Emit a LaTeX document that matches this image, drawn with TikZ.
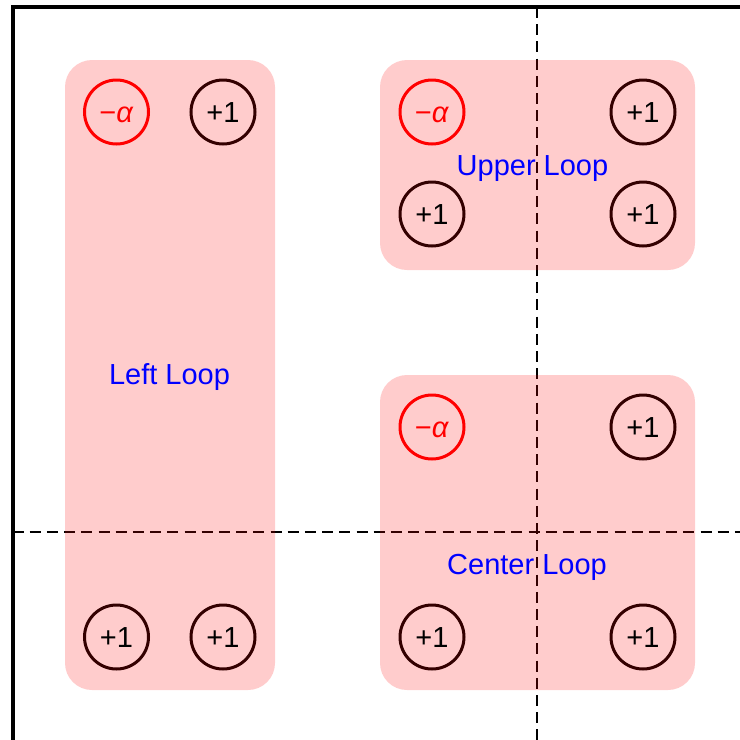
\documentclass[tikz,border=0pt]{standalone}
\usepackage{fontspec}
\setmainfont{Liberation Sans}
\definecolor{ringdark}{RGB}{51,0,0}
\begin{document}
\begin{tikzpicture}[x=1pt,y=-1pt,
  loopbox/.style={fill=red,fill opacity=0.2,draw=none,rounded corners=27},
  guide/.style={line width=2,dash pattern=on 11 off 6.2},
  frame/.style={line width=4},
  unit/.style={circle,draw=ringdark,line width=3,minimum size=64,inner sep=0,
    font=\fontsize{29}{32}\selectfont,text height=20.8,text depth=0},
  weight/.style={unit,draw=red,text=red},
  looplabel/.style={anchor=base,text=blue,font=\fontsize{29}{32}\selectfont,inner sep=0}]
\useasboundingbox (0,0) rectangle (740,740);

% axis frame
\coordinate (o) at (12.5,7);
\coordinate (top) at (740,7);
\coordinate (bot) at (12.5,740);
\draw[frame] (bot) -- (o) -- (top);

% dashed guide lines
\coordinate (vt) at (537,7);
\coordinate (vb) at (537,740);
\coordinate (hl) at (12.5,532);
\coordinate (hr) at (740,532);
\draw[guide] (vt) -- (vb);
\draw[guide] (hl) -- (hr);

% loop regions
\path[loopbox] (65,60) rectangle (275,690);
\path[loopbox] (380,60) rectangle (695,270);
\path[loopbox] (380,375) rectangle (695,690);

% left loop
\node[weight] (l1) at (116.5,112) {−\textit{α}};
\node[unit] (l2) at (223,112) {+1};
\node[unit] (l3) at (116.5,637) {+1};
\node[unit] (l4) at (223,637) {+1};
\node[looplabel] (ll) at (169.5,384) {Left Loop};

% upper loop
\node[weight] (u1) at (432,112) {−\textit{α}};
\node[unit] (u2) at (643,112) {+1};
\node[unit] (u3) at (432,214) {+1};
\node[unit] (u4) at (643,214) {+1};
\node[looplabel] (ul) at (532.5,175) {Upper Loop};

% center loop
\node[weight] (c1) at (432,427) {−\textit{α}};
\node[unit] (c2) at (643,427) {+1};
\node[unit] (c3) at (432,637) {+1};
\node[unit] (c4) at (643,637) {+1};
\node[looplabel] (cl) at (527,574) {Center Loop};
\end{tikzpicture}
\end{document}
